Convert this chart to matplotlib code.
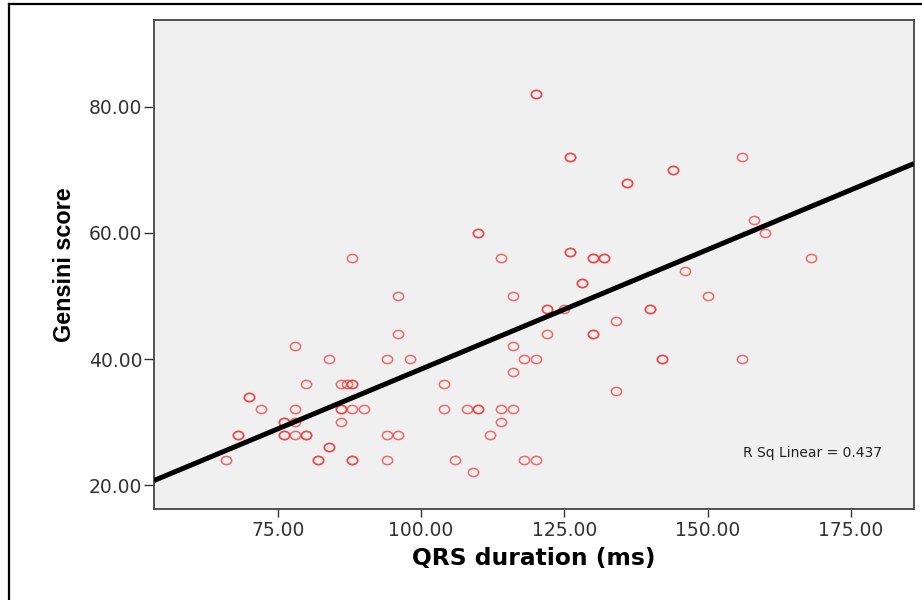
import numpy as np
import matplotlib
matplotlib.use("Agg")
import matplotlib.pyplot as plt
from matplotlib.path import Path
from matplotlib.lines import Line2D

# ---- data ----
qrs = [120, 120, 126, 126, 156, 144, 144, 136, 136, 158, 160, 110, 110, 88, 114,
       126, 126, 130, 130, 132, 132, 168, 146, 128, 128, 96, 116, 150,
       122, 122, 125, 140, 140, 134, 96, 122, 130, 130, 78, 116, 84, 94, 98, 118,
       120, 142, 142, 156,
       116, 80, 86, 87, 88, 88, 104, 134, 70, 70, 72, 78, 86, 86, 88, 90, 104, 108,
       110, 110, 114, 116, 76, 76, 78, 86, 114,
       68, 68, 76, 76, 78, 80, 80, 94, 96, 112, 84, 84, 66, 82, 82, 88, 88, 94, 106,
       118, 120, 109]
gensini = [82, 82, 72, 72, 72, 70, 70, 68, 68, 62, 60, 60, 60, 56, 56,
           57, 57, 56, 56, 56, 56, 56, 54, 52, 52, 50, 50, 50,
           48, 48, 48, 48, 48, 46, 44, 44, 44, 44, 42, 42, 40, 40, 40, 40,
           40, 40, 40, 40,
           38, 36, 36, 36, 36, 36, 36, 35, 34, 34, 32, 32, 32, 32, 32, 32, 32, 32,
           32, 32, 32, 32, 30, 30, 30, 30, 30,
           28, 28, 28, 28, 28, 28, 28, 28, 28, 28, 26, 26, 24, 24, 24, 24, 24, 24, 24,
           24, 24, 22]
x_ticks = [75, 100, 125, 150, 175]
y_ticks = [20, 40, 60, 80]
x_label = "QRS duration (ms)"
y_label = "Gensini score"
r2_text = "R Sq Linear = 0.437"

W, H = 922, 600
fig = plt.figure(figsize=(W / 100, H / 100), dpi=100)
fig.patch.set_facecolor("white")

# outer frame lines (top and left)
fig.add_artist(Line2D([9 / W, 9 / W], [0, 1 - 4 / H], transform=fig.transFigure,
                      color="black", lw=1.6))
fig.add_artist(Line2D([9 / W, 1], [1 - 4 / H, 1 - 4 / H], transform=fig.transFigure,
                      color="black", lw=1.6))

ax = fig.add_axes([154 / W, 1 - 509 / H, 760 / W, 489 / H])
ax.set_facecolor("#f0f0f0")
ax.set_xlim(53.4, 186.0)
ax.set_ylim(16.2, 93.8)

# elliptical open marker (slightly wider than tall, as in the reference)
circ = Path.unit_circle()
marker = Path(circ.vertices * np.array([1.0, 0.8]), circ.codes)

ax.plot(qrs, gensini, linestyle="none", marker=marker, markersize=7.4,
        markerfacecolor="none", markeredgecolor="#ee3b3b", markeredgewidth=1.1,
        alpha=0.75, zorder=3)

# least-squares fit line
xa = np.array(qrs, dtype=float)
ya = np.array(gensini, dtype=float)
slope, intercept = np.polyfit(xa, ya, 1)
xl = np.array(ax.get_xlim())
ax.plot(xl, intercept + slope * xl, color="black", lw=3.6, zorder=4,
        solid_capstyle="butt")

ax.text(0.775, 0.1145, r2_text, transform=ax.transAxes, ha="left", va="center",
        fontsize=10, color="#222222")

ax.set_xticks(x_ticks)
ax.set_xticklabels([f"{v:.2f}" for v in x_ticks])
ax.set_yticks(y_ticks)
ax.set_yticklabels([f"{v:.2f}" for v in y_ticks])

ax.tick_params(axis="y", length=7, width=1.0, color="#333333", pad=1.5,
               labelsize=13.5, labelcolor="#333333")
ax.tick_params(axis="x", length=6, width=1.0, color="#333333", pad=2.5,
               labelsize=13.5, labelcolor="#333333")

for s in ax.spines.values():
    s.set_color("#444444")
    s.set_linewidth(1.3)

ax.set_xlabel(x_label, fontsize=16.8, fontweight="bold", color="black")
ax.xaxis.label.set_va("baseline")
ax.xaxis.set_label_coords(0.5, (509 - 565) / 489)

ax.set_ylabel(y_label, fontsize=16.8, fontweight="bold", color="black",
              family=["Liberation Sans", "DejaVu Sans"])
ax.yaxis.label.set_va("center")
ax.yaxis.set_label_coords((64 - 154) / 760, 0.5)

fig.savefig("out.png", dpi=100)
